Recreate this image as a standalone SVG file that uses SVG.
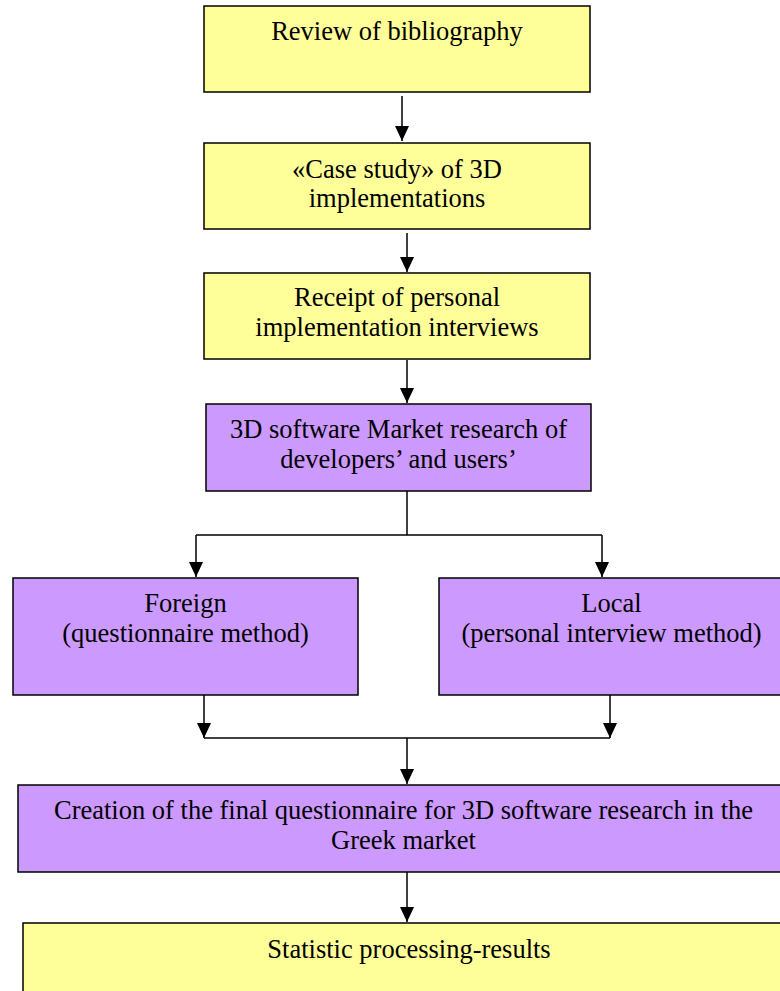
<svg xmlns="http://www.w3.org/2000/svg" width="780" height="991" viewBox="0 0 780 991">
<style>
.y{fill:#FFFF99;stroke:#000;stroke-width:1.5}
.p{fill:#CC99FF;stroke:#000;stroke-width:1.5}
text{font-family:"Liberation Serif","Times New Roman",serif;font-size:26.5px;fill:#000;text-anchor:middle}
.c{fill:none;stroke:#000;stroke-width:1.5}
</style>
<defs>
<marker id="ah" markerUnits="userSpaceOnUse" markerWidth="16" markerHeight="16" viewBox="0 0 16 16" refX="15" refY="8" orient="auto">
<path d="M0,1 L15,8 L0,15 Z" fill="#000"/>
</marker>
</defs>
<rect width="780" height="991" fill="#fff"/>
<g id="n1"><rect class="y" x="204" y="6" width="386" height="86"/><text x="397" y="40">Review of bibliography</text></g>
<g id="n2"><rect class="y" x="204" y="143" width="386" height="86"/><text x="397" y="178">«Case study» of 3D</text><text x="397" y="207">implementations</text></g>
<g id="n3"><rect class="y" x="204" y="273" width="386" height="86"/><text x="397" y="306">Receipt of personal</text><text x="397" y="336">implementation interviews</text></g>
<g id="n4"><rect class="p" x="206" y="404" width="385" height="87"/><text x="398.5" y="438">3D software Market research of</text><text x="398.5" y="468">developers’ and users’</text></g>
<g id="n5"><rect class="p" x="13" y="578" width="345" height="117"/><text x="185.5" y="612">Foreign</text><text x="185.5" y="642">(questionnaire method)</text></g>
<g id="n6"><rect class="p" x="439" y="578" width="345" height="117"/><text x="611.5" y="612">Local</text><text x="611.5" y="642">(personal interview method)</text></g>
<g id="n7"><rect class="p" x="18" y="785" width="771" height="87"/><text x="403.5" y="819">Creation of the final questionnaire for 3D software research in the</text><text x="403.5" y="849">Greek market</text></g>
<g id="n8"><rect class="y" x="23" y="923" width="772" height="90"/><text x="409" y="958">Statistic processing-results</text></g>
<g id="connectors">
<path class="c" d="M402,96 V141" marker-end="url(#ah)"/>
<path class="c" d="M407,233 V272" marker-end="url(#ah)"/>
<path class="c" d="M407,360 V403" marker-end="url(#ah)"/>
<path class="c" d="M407,491 V535"/>
<path class="c" d="M196,535 H602"/>
<path class="c" d="M196,535 V577" marker-end="url(#ah)"/>
<path class="c" d="M602,535 V577" marker-end="url(#ah)"/>
<path class="c" d="M204,695 V738" marker-end="url(#ah)"/>
<path class="c" d="M610,695 V738" marker-end="url(#ah)"/>
<path class="c" d="M204,738 H610"/>
<path class="c" d="M407,738 V784" marker-end="url(#ah)"/>
<path class="c" d="M407,872 V922" marker-end="url(#ah)"/>
</g>
</svg>
